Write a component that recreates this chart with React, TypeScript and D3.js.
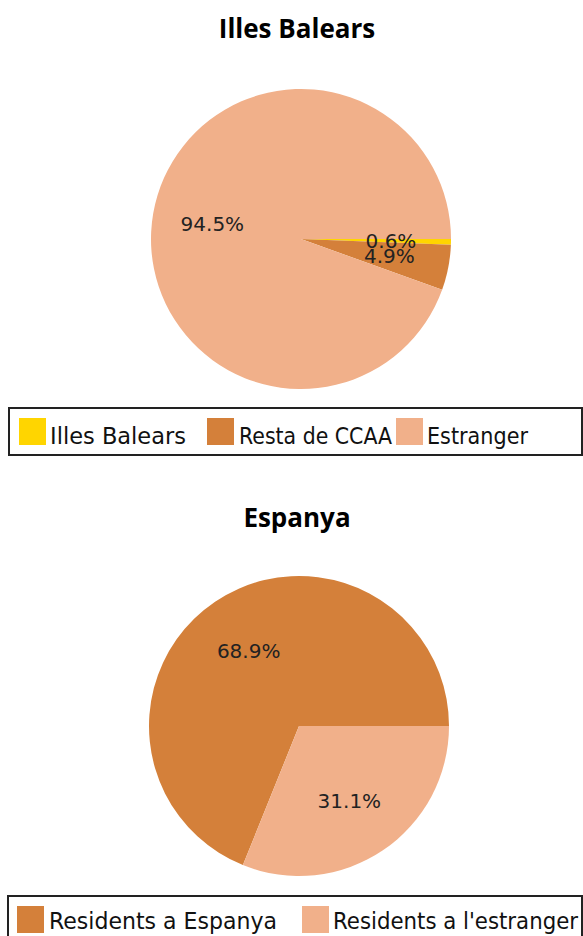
import React from "react";
import * as d3 from "d3";

// ---- Data ----
const chart1Title = "Illes Balears";
const chart1Categories = ["Illes Balears", "Resta de CCAA", "Estranger"];
const chart1Values = [0.6, 4.9, 94.5];
const chart1Colors = ["#FFD500", "#D4803A", "#F1B08A"];

const chart2Title = "Espanya";
const chart2Categories = ["Residents a Espanya", "Residents a l'estranger"];
const chart2Values = [68.9, 31.1];
const chart2Colors = ["#D4803A", "#F1B08A"];

// ---- Layout constants ----
const W = 583;
const H = 936;
const R = 150;
const LABEL_R = 90;

type PieProps = {
  title: string;
  categories: string[];
  values: number[];
  colors: string[];
  cx: number;
  cy: number;
  titleY: number;
  clockwise: boolean;
  legendTop: number;
  legendH: number;
  legendLeft: number;
  baselineOffset: number;
  swatchX: number[];
  textX: number[];
  textW: number[];
};

function PieChart(p: PieProps) {
  const data = p.categories.map((c, i) => ({ c, v: p.values[i], col: p.colors[i] }));
  const total = d3.sum(p.values);
  const start = Math.PI / 2;
  const pie = d3
    .pie<{ c: string; v: number; col: string }>()
    .value((d) => d.v)
    .sort(null)
    .startAngle(start)
    .endAngle(p.clockwise ? start + 2 * Math.PI : start - 2 * Math.PI);
  const arcs = pie(data);
  const arc = d3.arc<d3.PieArcDatum<any>>().innerRadius(0).outerRadius(R);
  const labelArc = d3.arc<d3.PieArcDatum<any>>().innerRadius(LABEL_R).outerRadius(LABEL_R);
  const fmt = d3.format(".1f");
  const sw = 27;
  const baseline = p.legendTop + p.baselineOffset;
  return (
    <g>
      <text
        x={297}
        y={p.titleY}
        textAnchor="middle"
        fontFamily="'Open Sans', sans-serif"
        fontWeight="bold"
        fontSize={26}
        fill="#000"
      >
        {p.title}
      </text>
      <g transform={`translate(${p.cx},${p.cy})`}>
        {arcs.map((a, i) => (
          <path key={i} d={arc(a) || ""} fill={a.data.col} />
        ))}
        {arcs.map((a, i) => {
          const [x, y] = labelArc.centroid(a);
          return (
            <text
              key={"l" + i}
              x={x}
              y={y}
              textAnchor="middle"
              dominantBaseline="central"
              fontFamily="'DejaVu Sans', sans-serif"
              fontSize={20}
              fill="#222"
            >
              {fmt((a.data.v / total) * 100) + "%"}
            </text>
          );
        })}
      </g>
      <rect
        x={p.legendLeft}
        y={p.legendTop}
        width={W - p.legendLeft - 1}
        height={p.legendH}
        fill="#fff"
        stroke="#222"
        strokeWidth={2}
      />
      {data.map((d, i) => (
        <g key={"lg" + i}>
          <rect
            x={p.swatchX[i]}
            y={p.legendTop + 10}
            width={sw}
            height={sw}
            fill={d.col}
          />
          <text
            x={p.textX[i]}
            y={baseline}
            fontFamily="'DejaVu Sans', sans-serif"
            fontSize={23}
            textLength={p.textW[i]}
            lengthAdjust="spacingAndGlyphs"
            fill="#111"
          >
            {d.c}
          </text>
        </g>
      ))}
    </g>
  );
}

export default function App() {
  return (
    <svg
      width={W}
      height={H}
      style={{ position: "absolute", left: 0, top: 0, background: "#fff" }}
    >
      <rect x={0} y={0} width={W} height={H} fill="#fff" />
      <PieChart
        title={chart1Title}
        categories={chart1Categories}
        values={chart1Values}
        colors={chart1Colors}
        cx={301}
        cy={239}
        titleY={38}
        clockwise={true}
        legendTop={408}
        legendH={47}
        legendLeft={9}
        baselineOffset={36}
        swatchX={[19, 207, 396]}
        textX={[50, 239, 427]}
        textW={[136, 153, 101]}
      />
      <PieChart
        title={chart2Title}
        categories={chart2Categories}
        values={chart2Values}
        colors={chart2Colors}
        cx={299}
        cy={726}
        titleY={527}
        clockwise={false}
        legendTop={896}
        legendH={60}
        legendLeft={8}
        baselineOffset={33}
        swatchX={[17, 302]}
        textX={[49, 333]}
        textW={[228, 245]}
      />
    </svg>
  );
}
